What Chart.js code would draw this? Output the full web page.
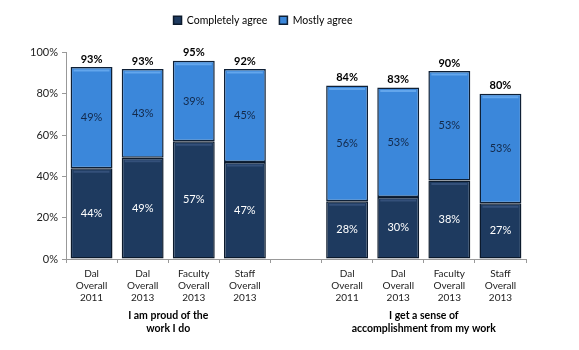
<!DOCTYPE html>
<html>
<head>
<meta charset="utf-8">
<script src="https://cdn.jsdelivr.net/npm/chart.js@4.4.0/dist/chart.umd.min.js"></script>
<style>
  html, body { margin: 0; padding: 0; background: #fff; }
  #wrap { width: 579px; height: 350px; }
</style>
</head>
<body>
<div id="wrap"><canvas id="agreeChart" width="579" height="350"></canvas></div>
<script>
// categories (an empty slot separates the two questions)
var categories = [
  ['Dal', 'Overall', '2011'], ['Dal', 'Overall', '2013'], ['Faculty', 'Overall', '2013'], ['Staff', 'Overall', '2013'],
  '',
  ['Dal', 'Overall', '2011'], ['Dal', 'Overall', '2013'], ['Faculty', 'Overall', '2013'], ['Staff', 'Overall', '2013']
];
var completelyAgree = [44, 49, 57, 47, null, 28, 30, 38, 27];
var mostlyAgree     = [49, 43, 39, 45, null, 56, 53, 53, 53];
var totalLabels     = ['93%', '93%', '95%', '92%', '', '84%', '83%', '90%', '80%'];
var groupTitles = [
  { from: 0, to: 3, lines: ['I am proud of the', 'work I do'] },
  { from: 5, to: 8, lines: ['I get a sense of', 'accomplishment from my work'] }
];
var yTicks = [0, 20, 40, 60, 80, 100];

var FONT = 'Lato, "Open Sans", sans-serif';
var highlight = ['#34507a', '#63a6ec'];

// extra room under the legend
var legendGap = {
  id: 'legendGap',
  beforeInit: function(chart) {
    var fit = chart.legend.fit;
    chart.legend.fit = function() {
      fit.call(this);
      this.height += 17;
    };
  }
};

// bevel line, value labels inside segments, totals on top
var labelPlugin = {
  id: 'barLabels',
  afterDatasetsDraw: function(chart) {
    var ctx = chart.ctx;
    ctx.save();
    chart.data.datasets.forEach(function(ds, i) {
      var meta = chart.getDatasetMeta(i);
      meta.data.forEach(function(bar, j) {
        if (ds.data[j] == null) return;
        var half = bar.width / 2;
        ctx.strokeStyle = highlight[i];
        ctx.lineWidth = 2;
        ctx.beginPath();
        ctx.moveTo(bar.x - half + 3, bar.y + 3.5);
        ctx.lineTo(bar.x + half - 3, bar.y + 3.5);
        ctx.stroke();
      });
    });
    ctx.textAlign = 'center';
    ctx.textBaseline = 'middle';
    chart.data.datasets.forEach(function(ds, i) {
      var meta = chart.getDatasetMeta(i);
      meta.data.forEach(function(bar, j) {
        if (ds.data[j] == null) return;
        ctx.font = '11px ' + FONT;
        ctx.fillStyle = i === 0 ? '#ffffff' : '#13294a';
        ctx.fillText(ds.data[j] + '%', bar.x, (bar.y + bar.base) / 2);
      });
    });
    var top = chart.getDatasetMeta(1);
    ctx.font = 'bold 11px ' + FONT;
    ctx.fillStyle = '#000';
    top.data.forEach(function(bar, j) {
      if (!totalLabels[j]) return;
      ctx.fillText(totalLabels[j], bar.x, bar.y - 8);
    });
    // group titles under the x axis
    var xs = chart.scales.x;
    ctx.font = 'bold 10.5px ' + FONT;
    groupTitles.forEach(function(g) {
      var cx = (xs.getPixelForValue(g.from) + xs.getPixelForValue(g.to)) / 2;
      g.lines.forEach(function(line, k) {
        ctx.fillText(line, cx, 316 + k * 13);
      });
    });
    ctx.restore();
  }
};

new Chart(document.getElementById('agreeChart'), {
  type: 'bar',
  data: {
    labels: categories,
    datasets: [
      {
        label: 'Completely agree',
        data: completelyAgree,
        backgroundColor: '#1e3a5f',
        borderColor: '#0c1a2c',
        borderWidth: 1.5,
        borderSkipped: false
      },
      {
        label: 'Mostly agree',
        data: mostlyAgree,
        backgroundColor: '#3b87da',
        borderColor: '#0f2036',
        borderWidth: 1.5,
        borderSkipped: false
      }
    ]
  },
  options: {
    responsive: false,
    animation: false,
    layout: { padding: { top: 3, right: 53, left: 0, bottom: 0 } },
    datasets: { bar: { categoryPercentage: 1, barPercentage: 0.82 } },
    plugins: {
      legend: {
        position: 'top',
        labels: {
          boxWidth: 8, boxHeight: 8, padding: 12,
          color: '#000',
          font: { family: FONT, size: 10.5 }
        }
      },
      tooltip: { enabled: false }
    },
    scales: {
      x: {
        stacked: true,
        afterFit: function(scale) { scale.height = 91; },
        grid: { display: true, drawOnChartArea: false, drawTicks: true, tickLength: 4, color: '#999', offset: true },
        border: { display: true, color: '#999' },
        ticks: { color: '#222', font: { family: FONT, size: 10 }, maxRotation: 0, autoSkip: false, padding: 5 }
      },
      y: {
        stacked: true,
        min: 0, max: 100,
        afterFit: function(scale) { scale.width = 66; },
        afterBuildTicks: function(scale) { scale.ticks = yTicks.map(function(v) { return { value: v }; }); },
        grid: { display: true, drawOnChartArea: false, drawTicks: true, tickLength: 4, color: '#999' },
        border: { display: true, color: '#999' },
        ticks: {
          color: '#222', padding: 4,
          font: { family: FONT, size: 11 },
          callback: function(v) { return v + '%'; }
        }
      }
    }
  },
  plugins: [legendGap, labelPlugin]
});
</script>
</body>
</html>
